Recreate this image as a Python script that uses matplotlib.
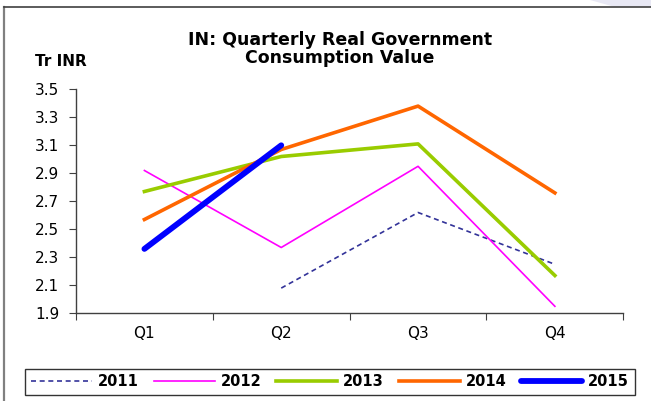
import matplotlib
matplotlib.use("Agg")
import matplotlib.pyplot as plt
from matplotlib.lines import Line2D
from matplotlib.patches import Polygon

plt.rcParams['font.family'] = ['DejaVu Sans']

quarters = ["Q1", "Q2", "Q3", "Q4"]
years = ["2011", "2012", "2013", "2014", "2015"]
v2011 = [None, 2.08, 2.62, 2.25]
v2012 = [2.92, 2.37, 2.95, 1.95]
v2013 = [2.77, 3.02, 3.11, 2.17]
v2014 = [2.57, 3.07, 3.38, 2.76]
v2015 = [2.36, 3.10, None, None]
series = [v2011, v2012, v2013, v2014, v2015]

styles = [
    dict(color="#333399", lw=1.2, ls=(0, (3.0, 2.2))),
    dict(color="#ff00ff", lw=1.2, ls="-"),
    dict(color="#99cc00", lw=2.6, ls="-"),
    dict(color="#ff6600", lw=2.6, ls="-"),
    dict(color="#0000ff", lw=4.2, ls="-", solid_capstyle="round"),
]

W, H = 651, 401
fig = plt.figure(figsize=(W / 100, H / 100), dpi=100)
fig.patch.set_facecolor("white")

# slide background patch top right
fig.patches.append(Polygon([(590 / W, 1), (1, 1), (1, 1 - 7 / H), (615 / W, 1 - 7 / H)],
                           closed=True, transform=fig.transFigure,
                           facecolor="#e8e8f4", edgecolor="none", zorder=0))
# frame lines
fig.lines.append(Line2D([3.5 / W, 3.5 / W], [0, 1 - 7 / H], transform=fig.transFigure,
                        color="#808080", lw=1.6))
fig.lines.append(Line2D([3.5 / W, 1], [1 - 7 / H, 1 - 7 / H], transform=fig.transFigure,
                        color="#404040", lw=1.2))

left, right = 76 / W, 623.3 / W
bottom, top = 1 - 313.3 / H, 1 - 89.3 / H
ax = fig.add_axes([left, bottom, right - left, top - bottom])

xpos = [i + 0.5 for i in range(len(quarters))]
handles = []
for name, vals, st in zip(years, series, styles):
    xs = [x for x, v in zip(xpos, vals) if v is not None]
    ys = [v for v in vals if v is not None]
    h, = ax.plot(xs, ys, label=name, **st)
    handles.append(h)

ax.set_xlim(0, 4)
ax.set_ylim(1.9, 3.5)
ax.set_yticks([1.9, 2.1, 2.3, 2.5, 2.7, 2.9, 3.1, 3.3, 3.5])
ax.set_yticklabels(["1.9", "2.1", "2.3", "2.5", "2.7", "2.9", "3.1", "3.3", "3.5"])
ax.set_xticks([0, 1, 2, 3, 4])
ax.set_xticklabels([])
ax.set_xticks(xpos, minor=True)
ax.set_xticklabels(quarters, minor=True)
ax.tick_params(axis="x", which="minor", length=0, pad=9, labelsize=11)
ax.tick_params(axis="x", which="major", length=5, direction="out", color="#404040")
ax.tick_params(axis="y", length=5, direction="out", labelsize=11, pad=7, color="#404040")
for s in ["top", "right"]:
    ax.spines[s].set_visible(False)
for s in ["left", "bottom"]:
    ax.spines[s].set_color("#404040")
    ax.spines[s].set_linewidth(1.0)

fig.text(340 / W, 1 - 49 / H, "IN: Quarterly Real Government\nConsumption Value",
         ha="center", va="center", fontsize=12.5, fontweight="bold", linespacing=1.0)
fig.text(35 / W, 1 - 61 / H, "Tr INR", ha="left", va="center",
         fontsize=11, fontweight="bold")

leg = fig.legend(handles=handles, labels=years, ncol=5, loc="center",
                 bbox_to_anchor=(330 / W, 1 - 382 / H), frameon=True, fancybox=False,
                 edgecolor="black", prop=dict(weight="bold", size=10.5),
                 handlelength=4.2, columnspacing=1.0, handletextpad=0.4,
                 borderpad=0.4)
leg.get_frame().set_linewidth(1.0)

fig.savefig("out.png", dpi=100, facecolor="white")
